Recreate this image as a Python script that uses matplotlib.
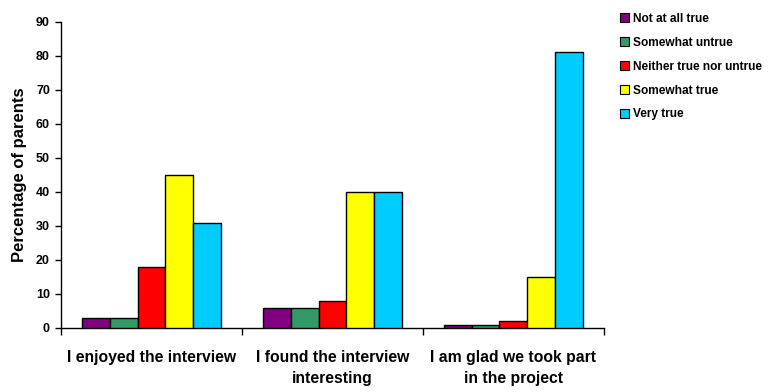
import numpy as np
import matplotlib.pyplot as plt

plt.rcParams['font.family'] = ['Liberation Sans', 'DejaVu Sans']

questions = ["I enjoyed the interview", "I found the interview\ninteresting",
             "I am glad we took part\nin the project"]
responses = ["Not at all true", "Somewhat untrue", "Neither true nor untrue",
             "Somewhat true", "Very true"]
colors = ["#800080", "#339966", "#ff0000", "#ffff00", "#00ccff"]

not_at_all = [3, 6, 1]
somewhat_untrue = [3, 6, 1]
neither = [18, 8, 2]
somewhat_true = [45, 40, 15]
very_true = [31, 40, 81]
series = [not_at_all, somewhat_untrue, neither, somewhat_true, very_true]

fig = plt.figure(figsize=(7.8, 3.92), dpi=100)
ax = fig.add_axes([0.0782, 0.1633, 0.696, 0.781])

x = np.arange(len(questions))
width = 0.1536
for i, (vals, col, lab) in enumerate(zip(series, colors, responses)):
    ax.bar(x + (i - 2) * width, vals, width, color=col, edgecolor="black",
           linewidth=1.0, label=lab, zorder=3)

ax.set_xlim(-0.5, len(questions) - 0.5)
ax.set_ylim(0, 90)
ax.set_yticks(range(0, 91, 10))
ax.set_xticks(np.arange(-0.5, len(questions), 1.0))
ax.set_xticklabels([])
ax.tick_params(axis="x", length=5, width=1)
ax.tick_params(axis="y", length=4, width=1, labelsize=9, pad=4)
for lab in ax.get_yticklabels():
    lab.set_fontweight("bold")
for q, xi in zip(questions, x):
    ax.text(xi, -6.5, q, ha="center", va="top", fontsize=11.3, fontweight="bold",
            linespacing=1.5, transform=ax.transData)

for s in ("top", "right"):
    ax.spines[s].set_visible(False)
for s in ("left", "bottom"):
    ax.spines[s].set_linewidth(1)

ax.set_ylabel("Percentage of parents", fontsize=12, fontweight="bold", labelpad=6)

leg = fig.legend(loc="upper left", bbox_to_anchor=(0.781, 0.995), frameon=False,
                 prop={"size": 8.6, "weight": "bold"}, handlelength=0.8,
                 handleheight=0.8, handletextpad=0.3, labelspacing=1.0)
for h in leg.legend_handles:
    h.set_linewidth(0.8)

fig.savefig("out.png", dpi=100)
